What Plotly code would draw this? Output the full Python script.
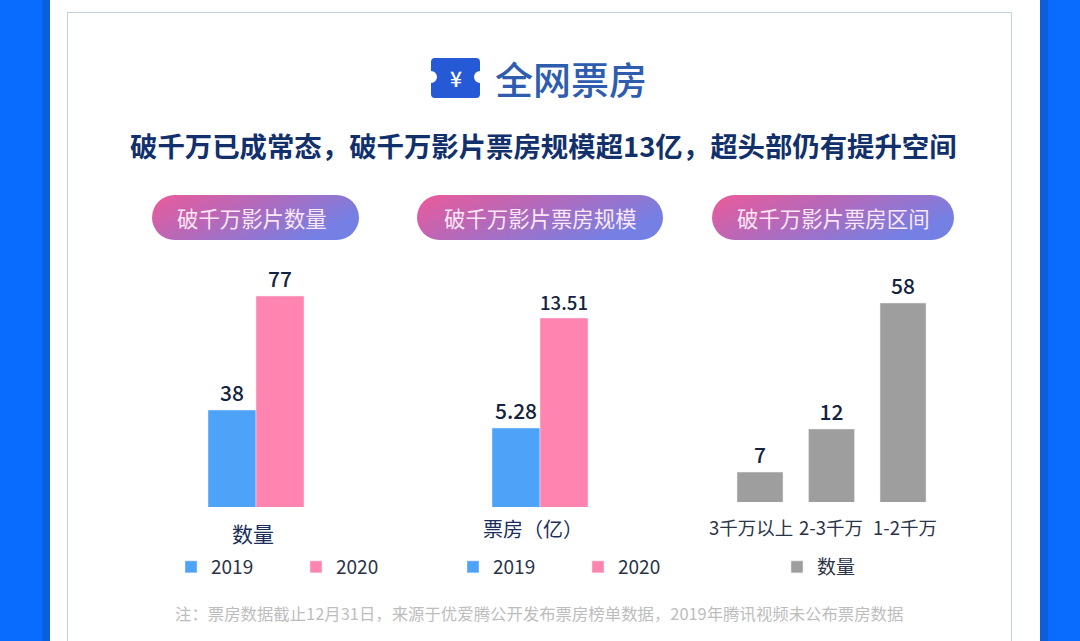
import base64
import math
import plotly.graph_objects as go

W, H = 1080, 641
FONT = "Noto Sans CJK SC"

# ---- data ----
title_text = "全网票房"
subtitle_text = "破千万已成常态，破千万影片票房规模超13亿，超头部仍有提升空间"
footnote_text = "注：票房数据截止12月31日，来源于优爱腾公开发布票房榜单数据，2019年腾讯视频未公布票房数据"
panel_titles = ["破千万影片数量", "破千万影片票房规模", "破千万影片票房区间"]

years = ["2019", "2020"]
count_category = ["数量"]
count_2019 = [38]
count_2020 = [77]
count_labels = ["38", "77"]

box_category = ["票房（亿）"]
box_2019 = [5.28]
box_2020 = [13.51]
box_labels = ["5.28", "13.51"]

range_categories = ["3千万以上", "2-3千万", "1-2千万"]
range_counts = [7, 12, 58]
range_labels = ["7", "12", "58"]
range_series = "数量"

BLUE, PINK, GREY = "#4DA3F8", "#FF84B0", "#9E9E9E"
INK, NAVY = "#14233F", "#12306B"


def px(x):
    return x / W


def py(y):
    return 1 - y / H


def log_range(v1, y1, v2, y2, bottom, top):
    """Log-axis range so that v1 lands at pixel y1 and v2 at pixel y2."""
    per_decade = (y1 - y2) / (math.log10(v2) - math.log10(v1))
    lo = math.log10(v1) - (bottom - y1) / per_decade
    hi = math.log10(v2) + (y2 - top) / per_decade
    return [lo, hi]


fig = go.Figure()

fig.add_bar(x=count_category, y=count_2019, name=years[0], marker_color=BLUE, text=[count_labels[0]],
            xaxis="x", yaxis="y", legend="legend")
fig.add_bar(x=count_category, y=count_2020, name=years[1], marker_color=PINK, text=[count_labels[1]],
            xaxis="x", yaxis="y", legend="legend")
fig.add_bar(x=box_category, y=box_2019, name=years[0], marker_color=BLUE, text=[box_labels[0]],
            xaxis="x2", yaxis="y2", legend="legend2")
fig.add_bar(x=box_category, y=box_2020, name=years[1], marker_color=PINK, text=[box_labels[1]],
            xaxis="x2", yaxis="y2", legend="legend2")
fig.add_bar(x=range_categories, y=range_counts, name=range_series, marker_color=GREY, text=range_labels,
            xaxis="x3", yaxis="y3", legend="legend3", width=0.643)
fig.update_traces(textposition="outside", cliponaxis=False,
                  textfont=dict(family=FONT, size=21, color=INK, weight=500), hoverinfo="skip")

hidden = dict(showgrid=False, zeroline=False, showline=False, showticklabels=False, ticks="", fixedrange=True)
TOP = 260
fig.update_layout(
    xaxis=dict(domain=[px(160), px(352)], anchor="y", **hidden),
    yaxis=dict(domain=[py(507), py(TOP)], anchor="x", type="log",
               range=log_range(38, 410, 77, 296, 507, TOP), **hidden),
    xaxis2=dict(domain=[px(444), px(636)], anchor="y2", **hidden),
    yaxis2=dict(domain=[py(507), py(TOP)], anchor="x2", type="log",
                range=log_range(5.28, 428, 13.51, 318, 507, TOP), **hidden),
    xaxis3=dict(domain=[px(724.25), px(938.75)], anchor="y3", categoryorder="array",
                categoryarray=range_categories, **hidden),
    yaxis3=dict(domain=[py(502), py(TOP)], anchor="x3", type="log",
                range=log_range(12, 429, 58, 303, 502, TOP), **hidden),
)


def legend_at(x, y, entry):
    return dict(x=px(x), y=py(y), xanchor="left", yanchor="middle", orientation="h",
                font=dict(family=FONT, size=19, color="#2A3348"), bgcolor="rgba(0,0,0,0)",
                entrywidth=entry, entrywidthmode="pixels", itemclick=False, itemdoubleclick=False,
                itemwidth=30, traceorder="normal", tracegroupgap=0)


# ---- page furniture ----
shapes = [
    dict(type="rect", xref="paper", yref="paper", x0=px(0), x1=px(42), y0=py(641), y1=py(0),
         fillcolor="#0A6CFF", line_width=0, layer="below"),
    dict(type="rect", xref="paper", yref="paper", x0=px(42), x1=px(50), y0=py(641), y1=py(0),
         fillcolor="#0B5FD8", line_width=0, layer="below"),
    dict(type="rect", xref="paper", yref="paper", x0=px(1040), x1=px(1048), y0=py(641), y1=py(0),
         fillcolor="#0B5FD8", line_width=0, layer="below"),
    dict(type="rect", xref="paper", yref="paper", x0=px(1048), x1=px(1080), y0=py(641), y1=py(0),
         fillcolor="#0A6CFF", line_width=0, layer="below"),
    dict(type="path", xref="paper", yref="paper",
         path=f"M {px(67.5)} {py(645)} L {px(67.5)} {py(12.5)} L {px(1011.5)} {py(12.5)} L {px(1011.5)} {py(645)}",
         line=dict(color="#BFD3DC", width=1), layer="below"),
]


def svg_uri(body, w, h):
    svg = f'<svg xmlns="http://www.w3.org/2000/svg" width="{w}" height="{h}" viewBox="0 0 {w} {h}">{body}</svg>'
    return "data:image/svg+xml;base64," + base64.b64encode(svg.encode()).decode()


def pill(w, h):
    r = h / 2
    return svg_uri('<defs><linearGradient id="g" x1="0" y1="0" x2="1" y2="0.45">'
                   '<stop offset="0" stop-color="#EC5A9A"/><stop offset="0.45" stop-color="#B868B8"/>'
                   '<stop offset="1" stop-color="#7480E4"/></linearGradient></defs>'
                   f'<rect width="{w}" height="{h}" rx="{r}" ry="{r}" fill="url(#g)"/>', w, h)


ticket = svg_uri('<path d="M4 0H45a4 4 0 0 1 4 4V13a6 6 0 0 0 0 12V36a4 4 0 0 1-4 4H4a4 4 0 0 1-4-4V25'
                 'a6 6 0 0 0 0-12V4a4 4 0 0 1 4-4Z" fill="#2559D6"/>', 49, 40)

images = []
for x0, x1, y0, y1, src in [
    (152, 359, 195, 240, pill(207, 45)),
    (417, 663, 195, 240, pill(246, 45)),
    (712, 954, 195, 240, pill(242, 45)),
    (431, 480, 58, 98, ticket),
]:
    images.append(dict(source=src, xref="paper", yref="paper", x=px(x0), y=py(y0), sizex=px(x1 - x0),
                       sizey=y1 / H - y0 / H, xanchor="left", yanchor="top", sizing="stretch", layer="below"))


def note(text, x, y, size, color, weight=400):
    return dict(text=text, xref="paper", yref="paper", x=px(x), y=py(y), xanchor="center", yanchor="middle",
                showarrow=False, font=dict(family=FONT, size=size, color=color, weight=weight))


annotations = [
    note("¥", 456, 78, 21, "#FFFFFF", 500),
    note(title_text, 570.5, 77, 38, "#2E5DB0", 500),
    note(subtitle_text, 543, 145, 27.4, NAVY, 700),
    note(panel_titles[0], 252, 217, 21.4, "#FBE6F3"),
    note(panel_titles[1], 540, 217, 21.4, "#FBE6F3"),
    note(panel_titles[2], 833, 217, 21.4, "#FBE6F3"),
    note(footnote_text, 538.5, 613, 16.4, "#BDBDBD"),
    note(count_category[0], 253, 533, 21, "#1B2E5A"),
    note(box_category[0], 533, 528, 20, "#1B2E5A"),
    note(range_categories[0], 751, 527, 18.5, "#2A3348"),
    note(range_categories[1], 831, 527, 18.5, "#2A3348"),
    note(range_categories[2], 905, 527, 18.5, "#2A3348"),
]

fig.update_layout(
    width=W, height=H, margin=dict(l=0, r=0, t=0, b=0, autoexpand=False), paper_bgcolor="#FFFFFF",
    plot_bgcolor="rgba(0,0,0,0)", barmode="group", bargap=0.5, bargroupgap=0, showlegend=True,
    shapes=shapes, images=images, annotations=annotations, font=dict(family=FONT),
    legend=legend_at(171, 567, 80),
    legend2=legend_at(453, 567, 80),
    legend3=legend_at(777, 567, 80),
)

fig.write_html("out.html", config=dict(displayModeBar=False),
               post_script="document.body.style.margin='0';document.body.style.overflow='hidden';")
